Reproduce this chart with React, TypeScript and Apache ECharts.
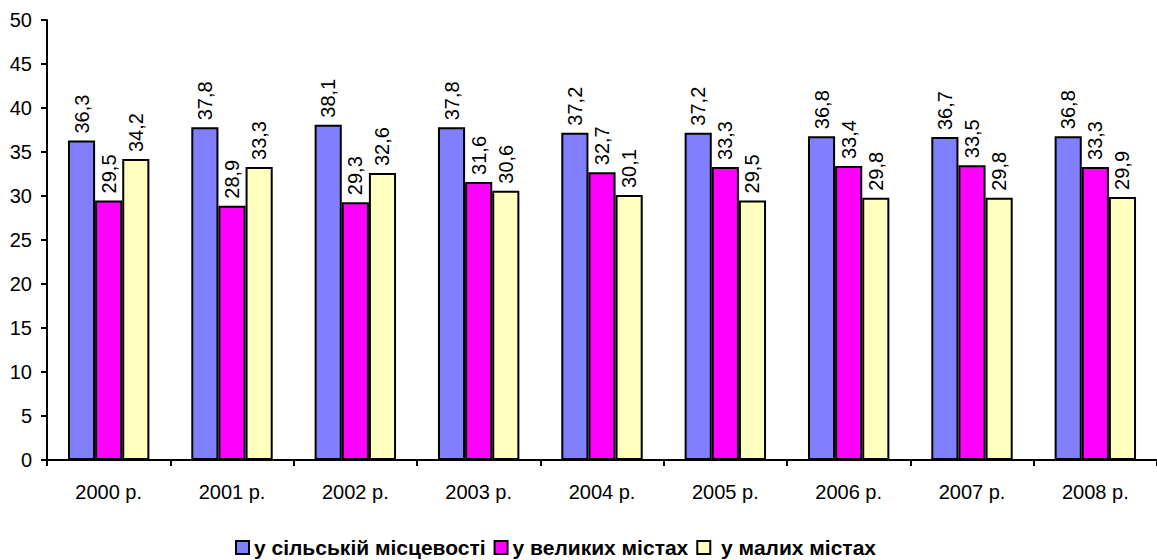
import React, { useEffect, useRef } from "react";
import * as echarts from "echarts";

const categories = ["2000 р.", "2001 р.", "2002 р.", "2003 р.", "2004 р.", "2005 р.", "2006 р.", "2007 р.", "2008 р."];
const rural = [36.3, 37.8, 38.1, 37.8, 37.2, 37.2, 36.8, 36.7, 36.8];
const bigCities = [29.5, 28.9, 29.3, 31.6, 32.7, 33.3, 33.4, 33.5, 33.3];
const smallCities = [34.2, 33.3, 32.6, 30.6, 30.1, 29.5, 29.8, 29.8, 29.9];
const seriesNames = ["у сільській місцевості", "у великих містах", " у малих містах"];
const colors = ["#8080FF", "#FF00FF", "#FFFFC0"];

const FONT = "'Liberation Sans', Arial, sans-serif";

export default function App() {
  const ref = useRef<HTMLDivElement>(null);
  useEffect(() => {
    const chart = echarts.init(ref.current!, null, { renderer: "svg" });
    const mk = (name: string, data: number[], color: string) => ({
      name,
      type: "bar",
      data,
      barGap: "0%",
      barCategoryGap: "34%",
      itemStyle: { color, borderColor: "#000", borderWidth: 2 },
      label: {
        show: true,
        position: "top",
        rotate: 90,
        align: "left",
        verticalAlign: "middle",
        distance: 7,
        fontFamily: FONT,
        fontSize: 20,
        color: "#000",
        formatter: (p: any) => String(p.value).replace(".", ","),
      },
    });
    chart.setOption({
      animation: false,
      backgroundColor: "#fff",
      textStyle: { fontFamily: FONT },
      grid: { left: 47, top: 20, width: 1116, height: 440, containLabel: false },
      legend: {
        top: 537,
        left: 235,
        padding: 0,
        itemWidth: 13,
        itemHeight: 13,
        itemGap: 8,
        icon: "rect",
        itemStyle: { borderColor: "#000", borderWidth: 2 },
        textStyle: { fontFamily: FONT, fontSize: 21, lineHeight: 20, fontWeight: "bold", color: "#000" },
        data: seriesNames,
      },
      xAxis: {
        type: "category",
        data: categories,
        axisLine: { lineStyle: { color: "#000", width: 2 } },
        axisTick: { show: true, alignWithLabel: false, length: 6, lineStyle: { color: "#000", width: 2 } },
        axisLabel: { color: "#000", fontSize: 20, fontFamily: FONT, margin: 22 },
      },
      yAxis: {
        type: "value",
        min: 0,
        max: 50,
        interval: 5,
        splitLine: { show: false },
        axisLine: { show: true, lineStyle: { color: "#000", width: 2 } },
        axisTick: { show: true, length: 6, lineStyle: { color: "#000", width: 2 } },
        axisLabel: { color: "#000", fontSize: 20, fontFamily: FONT, margin: 15 },
      },
      series: [
        mk(seriesNames[0], rural, colors[0]),
        mk(seriesNames[1], bigCities, colors[1]),
        mk(seriesNames[2], smallCities, colors[2]),
      ],
    });
    return () => chart.dispose();
  }, []);
  return (
    <div
      ref={ref}
      style={{ position: "fixed", left: 0, top: 0, width: 1157, height: 560, overflow: "hidden" }}
    />
  );
}
